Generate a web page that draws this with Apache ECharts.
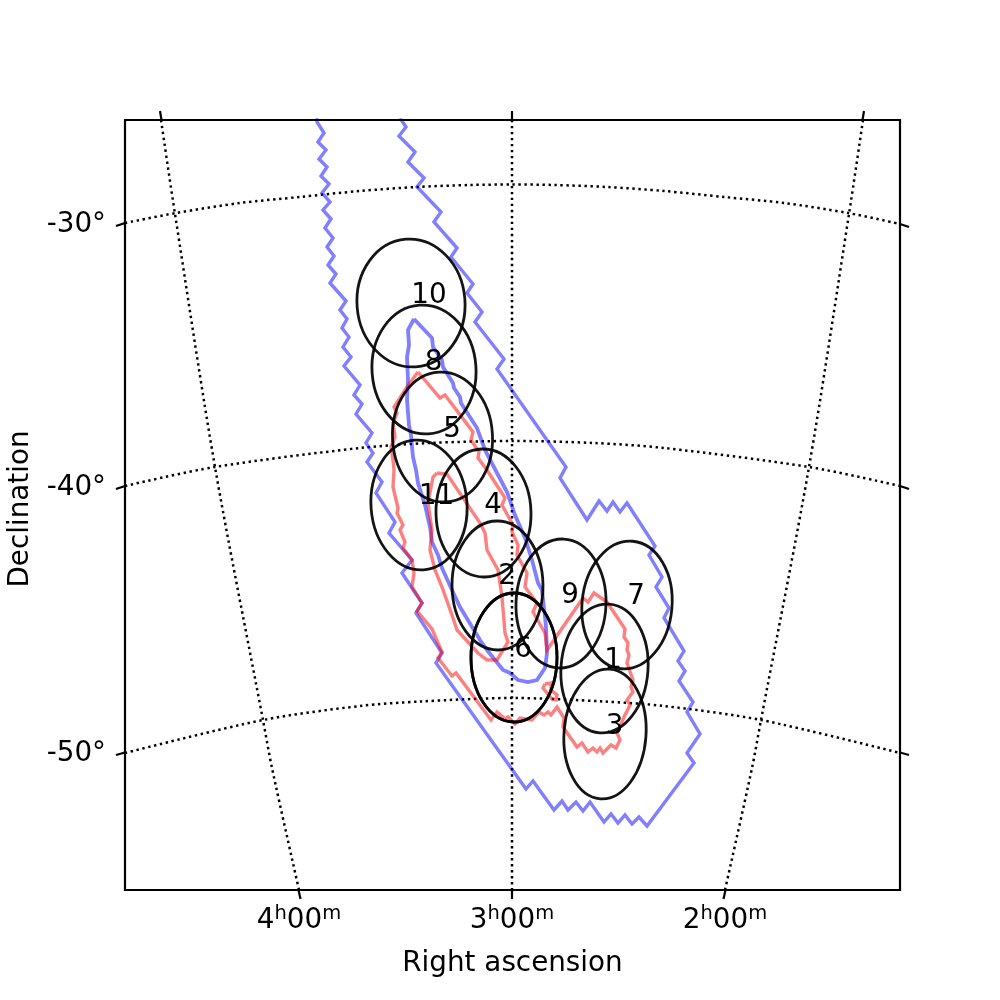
<!DOCTYPE html>
<html>
<head>
<meta charset="utf-8">
<title>Sky map</title>
<script src="https://cdn.jsdelivr.net/npm/echarts@6/dist/echarts.min.js"></script>
<style>
html, body { margin: 0; padding: 0; background: #fff; }
#main { width: 1000px; height: 1000px; }
</style>
</head>
<body>
<div id="main"></div>
<script>
// all positions are in plot units (projected sky, y grows downwards)
var raTickPos = [299, 512, 725];
var raTickHours = ['4', '3', '2'];
var decTickPos = [225, 488, 754];
var decTickLabels = ['-30°', '-40°', '-50°'];

// graticule
var meridian4h = [[161,120],[175,214],[215,467],[263,720],[272,768],[299,890]];
var meridian3h = [[512,120],[512,890]];
var meridian2h = [[863,120],[849,214],[809,467],[761,720],[752,768],[725,890]];
var parallel30 = [[125,223],[176,213],[240,203],[300,197],[360,191],[417,187],[470,185],[512,184.5],[554,185],[607,187],[664,191],[724,197],[784,203],[848,213],[900,224]];
var parallel40 = [[125,486],[215,467],[360,448],[430,443],[512,441],[594,443],[664,448],[809,467],[900,486]];
var parallel50 = [[125,753],[263,720],[360,706],[420,701.5],[512,698],[604,701.5],[664,706],[761,720],[900,753]];

// ticks on the frame: x1, y1, x2, y2
var outerTicks = [
    [160,111,161.5,120], [512,111,512,120], [864,111,862.5,120],
    [298.5,890,300.5,899], [512,890,512,899], [725.5,890,723.5,899],
    [116,226,125,223], [116,489,125,486], [116,755,125,752.5],
    [900,224,909,227], [900,486,909,489], [900,752.5,909,755]
];

// contours
var blueOuter = [[317,118],[317,122],[324,133],[318,142],[326,150],[319,159],[327,167],[321,176],[329,184],[322,193],[330,202],[323,210],[331,219],[325,228],[333,238],[327,247],[334,256],[328,265],[336,274],[330,283],[346,301],[340,310],[347,319],[342,328],[349,337],[343,347],[351,357],[344,366],[360,385],[354,395],[362,404],[356,414],[372,433],[366,443],[373,453],[367,462],[382,482],[376,493],[395,522],[389,533],[412,560],[402,573],[422,603],[416,613],[442,653],[436,663],[526,789],[533,781],[554,810],[562,801],[568,810],[576,802],[583,811],[590,802],[604,822],[611,814],[618,823],[625,815],[632,824],[639,817],[647,826],[694,763],[687,753],[700,734],[687,712],[693,702],[679,681],[685,671],[678,661],[684,651],[664,618],[669,608],[656,587],[662,577],[649,555],[655,546],[627,503],[620,512],[613,502],[607,511],[599,501],[587,520],[560,478],[566,467],[497,369],[504,359],[475,322],[482,312],[467,293],[473,284],[451,257],[457,248],[434,222],[441,212],[417,187],[424,178],[408,162],[415,152],[399,136],[406,127],[400,118]];
var blueInner = [[414,319],[408,330],[409,345],[407,357],[408,380],[407,400],[409,425],[411,435],[412,447],[413,457],[416,470],[418,483],[425,505],[430,527],[432,542],[438,555],[442,568],[452,590],[460,607],[480,640],[487,650],[503,670],[510,673],[518,680],[528,682],[537,680],[545,668],[547,653],[546,627],[545,617],[542,590],[538,583],[532,560],[525,538],[515,515],[507,492],[497,473],[485,450],[477,428],[461,403],[460,397],[454,388],[453,383],[443,367],[442,360],[433,347],[432,338],[414,319]];
var redOuter = [[418,372],[407,387],[394,407],[397,413],[393,423],[395,437],[391,447],[393,460],[394,470],[393,487],[398,508],[397,513],[403,525],[400,530],[405,542],[403,548],[412,560],[414,573],[412,587],[422,603],[417,611],[432,629],[442,652],[438,658],[452,676],[456,673],[491,720],[497,712],[505,719],[508,717],[515,724],[520,718],[532,720],[539,712],[544,715],[548,712],[551,715],[557,707],[564,718],[563,727],[577,747],[582,743],[588,752],[593,748],[597,752],[600,748],[603,753],[611,745],[616,748],[620,740],[617,733],[625,715],[630,705],[627,700],[633,692],[631,687],[633,680],[627,663],[629,655],[627,650],[628,643],[624,637],[625,629],[607,602],[594,593],[588,602],[583,598],[547,650],[545,633],[533,612],[537,603],[525,587],[527,573],[517,555],[518,545],[512,532],[513,525],[502,505],[505,498],[487,470],[478,458],[479,452],[471,440],[473,432],[445,395],[440,398],[418,372]];
var redInner = [[437,473],[447,474],[480,523],[485,533],[487,550],[498,570],[502,597],[505,633],[508,642],[497,660],[487,660],[478,653],[468,642],[457,630],[453,618],[442,587],[435,570],[430,550],[432,530],[428,503],[433,477],[437,473]];
var redLoop = [[545,684],[551,683],[551,690],[557,695],[556,700],[552,699],[543,688],[545,684]];

// beams, one entry per field
var fieldNames = ['1', '2', '3', '4', '5', '6', '6', '7', '8', '9', '10', '11'];
var fieldX = [604.5, 497.5, 605, 483.5, 442.5, 514, 514, 627, 424, 561, 411, 419];
var fieldY = [668.5, 585.5, 734, 513, 437, 657.5, 657.5, 605, 369.5, 603.5, 303, 505];
var fieldRx = [43.5, 45.5, 41, 47.5, 50, 43, 43, 45, 52, 45, 54, 48];
var fieldRy = [64.5, 64.5, 65, 64, 65, 64.5, 64.5, 64, 64.5, 64.5, 64, 65];
var fieldTilt = [4.2, -0.6, 4.2, -1.3, -3.1, 0.1, 0.1, 5.2, -4, 2.2, -4.5, -4.2];
var labelX = [613, 507, 614.5, 493, 452, 523, 523, 636, 433.5, 570, 429, 436.5];
var labelY = [661, 577, 727, 506, 430, 650, 650, 597, 363, 596, 296, 497];

var fontName = '"DejaVu Sans"';
var black = '#000';

function lineSeries(points, style, smooth) {
    return {
        type: 'line',
        data: points,
        showSymbol: false,
        symbol: 'none',
        smooth: smooth ? 0.3 : false,
        silent: true,
        lineStyle: style
    };
}

var dotted = { color: black, width: 2.5, type: [2.4, 3.6], cap: 'butt' };
var blueLine = { color: '#0000ff', opacity: 0.5, width: 3.4, join: 'miter' };
var blueFine = { color: '#0000ff', opacity: 0.5, width: 3.8, join: 'miter' };
var redLine = { color: '#ff0000', opacity: 0.5, width: 3.4, join: 'miter' };

var series = [];
[meridian4h, meridian3h, meridian2h, parallel30, parallel40, parallel50].forEach(function (g) {
    series.push(lineSeries(g, dotted, true));
});
series.push(lineSeries(blueOuter, blueLine, false));
series.push(lineSeries(blueInner, blueFine, false));
[redOuter, redInner, redLoop].forEach(function (c) {
    series.push(lineSeries(c, redLine, false));
});

// frame ticks stick out of the grid
series.push({
    type: 'custom',
    data: outerTicks,
    silent: true,
    clip: false,
    encode: { x: [0, 2], y: [1, 3] },
    renderItem: function (params, api) {
        var a = api.coord([api.value(0), api.value(1)]);
        var b = api.coord([api.value(2), api.value(3)]);
        return {
            type: 'line',
            shape: { x1: a[0], y1: a[1], x2: b[0], y2: b[1] },
            style: { stroke: black, lineWidth: 2.2, fill: null }
        };
    }
});

// ellipses
var fieldRows = [];
for (var i = 0; i < fieldNames.length; i++) {
    fieldRows.push([fieldX[i], fieldY[i], fieldRx[i], fieldRy[i], fieldTilt[i]]);
}
series.push({
    type: 'custom',
    data: fieldRows,
    silent: true,
    z: 5,
    encode: { x: 0, y: 1 },
    renderItem: function (params, api) {
        var c = api.coord([api.value(0), api.value(1)]);
        var size = api.size([api.value(2), api.value(3)]);
        return {
            type: 'ellipse',
            x: c[0],
            y: c[1],
            rotation: -api.value(4) * Math.PI / 180,
            shape: { cx: 0, cy: 0, rx: size[0], ry: size[1] },
            style: { fill: null, stroke: '#000', lineWidth: 2.8, opacity: 0.92 }
        };
    }
});

// field numbers
var labelRows = [];
for (var j = 0; j < fieldNames.length; j++) {
    if (j == 6) continue; // field 6 is drawn twice, its number only once
    labelRows.push({ value: [labelX[j], labelY[j]], name: fieldNames[j] });
}
series.push({
    type: 'scatter',
    data: labelRows,
    symbolSize: 0,
    silent: true,
    z: 6,
    itemStyle: { opacity: 1 },
    label: {
        show: true,
        position: 'inside',
        formatter: '{b}',
        color: black,
        fontFamily: fontName,
        fontSize: 27.8
    }
});

var chart = echarts.init(document.getElementById('main'), null, { renderer: 'canvas' });
chart.setOption({
    animation: false,
    backgroundColor: '#fff',
    grid: {
        left: 125, right: 100, top: 120, bottom: 110,
        outerBoundsMode: 'none',
        show: true,
        borderColor: black,
        borderWidth: 2.2,
        backgroundColor: 'transparent',
        z: 8
    },
    xAxis: {
        type: 'value',
        min: 125,
        max: 900,
        splitLine: { show: false },
        axisLine: { show: false },
        axisTick: { show: false },
        name: 'Right ascension',
        nameLocation: 'middle',
        nameGap: 60,
        nameTextStyle: { color: black, fontFamily: fontName, fontSize: 27.8 },
        axisLabel: {
            customValues: raTickPos,
            margin: 15,
            formatter: function (v) {
                var h = raTickHours[raTickPos.indexOf(v)];
                return '{a|' + h + '}{s|h}{a|00}{s|m}';
            },
            rich: {
                a: { color: black, fontFamily: fontName, fontSize: 27.8, lineHeight: 32 },
                s: { color: black, fontFamily: fontName, fontSize: 19.5, height: 18, lineHeight: 18, verticalAlign: 'top' }
            }
        }
    },
    yAxis: {
        type: 'value',
        inverse: true,
        min: 120,
        max: 890,
        splitLine: { show: false },
        axisLine: { show: false },
        axisTick: { show: false },
        name: 'Declination',
        nameLocation: 'middle',
        nameGap: 90,
        nameTextStyle: { color: black, fontFamily: fontName, fontSize: 27.8, padding: [0, 8, 0, 0] },
        axisLabel: {
            customValues: decTickPos,
            margin: 19,
            color: black,
            fontFamily: fontName,
            fontSize: 27.8,
            formatter: function (v) {
                return decTickLabels[decTickPos.indexOf(v)];
            }
        }
    },
    series: series
});
</script>
</body>
</html>
